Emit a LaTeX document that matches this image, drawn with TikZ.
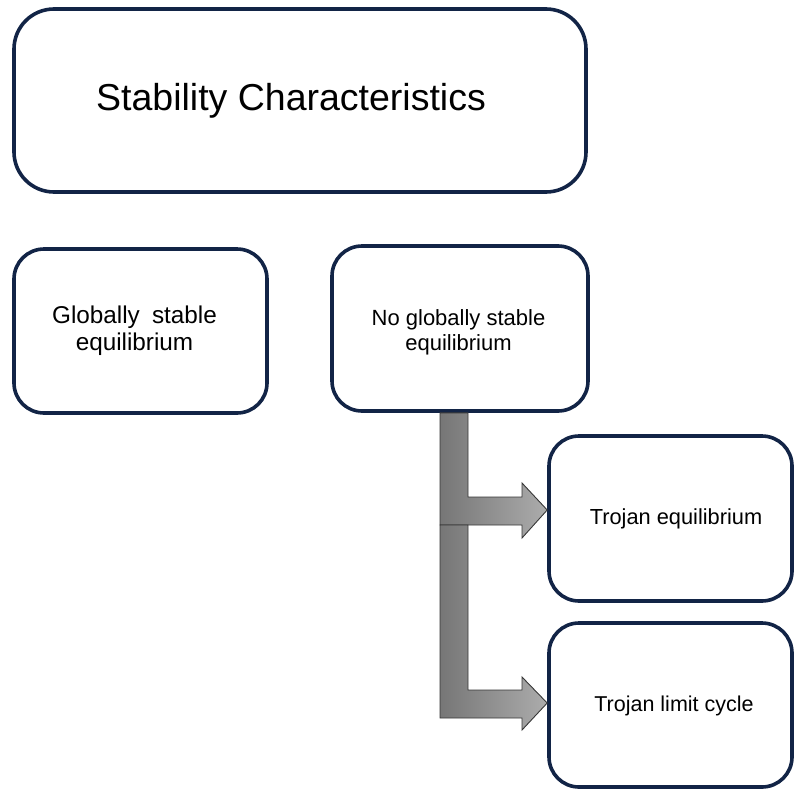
\documentclass[tikz,border=0pt]{standalone}
\usepackage{fontspec}
\setmainfont{Liberation Sans}
\usetikzlibrary{calc}
\definecolor{boxline}{RGB}{18,36,70}
\definecolor{arrowline}{RGB}{55,55,55}
\definecolor{arrowdark}{RGB}{118,118,118}
\definecolor{arrowlight}{RGB}{172,172,172}
\tikzset{
  card/.style={draw=boxline, line width=3.6pt, rounded corners=30pt, fill=white,
    rectangle, inner sep=0pt, align=center},
  blockarrow/.style={draw=arrowline, line width=0.9pt, line join=miter,
    left color=arrowdark, right color=arrowlight},
}
\begin{document}
\begin{tikzpicture}[x=1pt, y=-1pt]
  \useasboundingbox (0,0) rectangle (794,789);

  % boxes
  \node[card, rounded corners=40pt, minimum width=572pt, minimum height=183pt] (title) at (300,100.5) {};
  \node[font=\fontsize{37.5}{44}\selectfont] (titletext) at (291,101) {Stability Characteristics};

  \node[card, minimum width=253pt, minimum height=164pt] (gse) at (140.5,331) {};
  \node[align=center, font=\fontsize{24.3}{27}\selectfont] (gsetext) at (134.5,331) {Globally\hspace{0.5em}stable\\ equilibrium};

  \node[card, minimum width=256pt, minimum height=165pt] (nogse) at (460,328.5) {};
  \node[align=center, font=\fontsize{22}{25}\selectfont] (nogsetext) at (458.5,332) {No globally stable\\ equilibrium};

  \node[card, minimum width=243pt, minimum height=165pt] (teq) at (670.5,518.5) {};
  \node[font=\fontsize{21.8}{25}\selectfont] (teqtext) at (676,519) {Trojan equilibrium};

  \node[card, minimum width=243pt, minimum height=164pt] (tlc) at (670.5,705) {};
  \node[font=\fontsize{21.5}{25}\selectfont] (tlctext) at (674,706) {Trojan limit cycle};

  % bent block arrows from the lower right box down to the two branches
  \coordinate (barL) at ($(nogse.south)+(-20,0)$);
  \coordinate (barR) at ($(nogse.south)+(8,0)$);
  \coordinate (tipA) at ($(teq.west)+(0,-8.5)$);
  \coordinate (tipB) at ($(tlc.west)+(0,-2)$);

  \path[blockarrow]
    (barL) -- (barR) -- (barR |- 0,497) -- (522,497) -- (522,483) -- (tipA)
    -- (522,538) -- (522,525) -- (barL |- 0,525) -- cycle;
  \path[blockarrow]
    (barL |- 0,525) -- (barR |- 0,525) -- (barR |- 0,690) -- (522,690) -- (522,677)
    -- (tipB) -- (522,730) -- (522,718) -- (barL |- 0,718) -- cycle;
\end{tikzpicture}
\end{document}
